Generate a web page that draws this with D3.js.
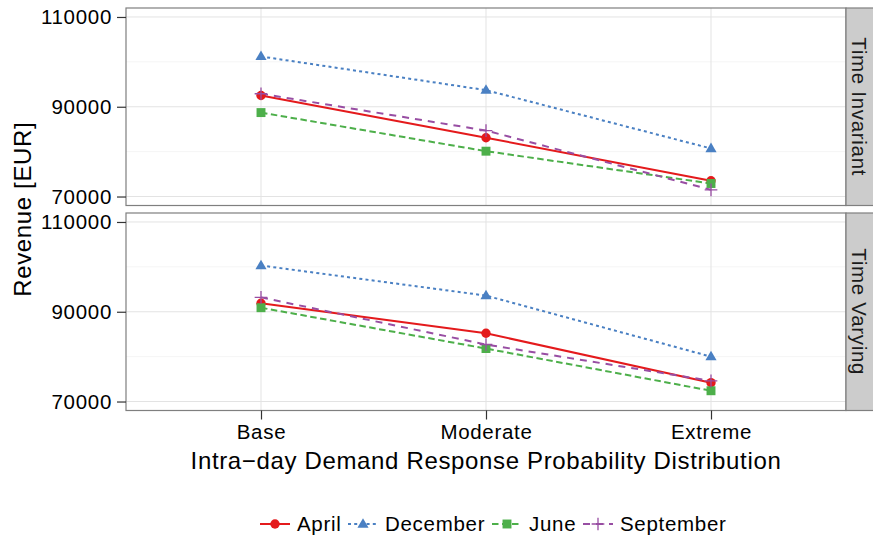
<!DOCTYPE html>
<html>
<head>
<meta charset="utf-8">
<script src="https://cdn.jsdelivr.net/npm/d3@7"></script>
<style>
  body { margin: 0; background: #fff; }
  text { font-family: "Liberation Sans", Arial, Helvetica, sans-serif; }
</style>
</head>
<body>
<div id="viz"></div>
<script>
const categories = ['Base', 'Moderate', 'Extreme'];
const months = ['April', 'December', 'June', 'September'];
const facets = ['Time Invariant', 'Time Varying'];
const yTicks = [70000, 90000, 110000];
const yMinor = [80000, 100000];

// revenue per month, one value per category (Base, Moderate, Extreme)
const invariantApril = [92500, 83100, 73500];
const invariantDecember = [101200, 93700, 80700];
const invariantJune = [88700, 80100, 72900];
const invariantSeptember = [92900, 84700, 71500];

const varyingApril = [91900, 85200, 74200];
const varyingDecember = [100300, 93600, 80000];
const varyingJune = [90900, 81800, 72400];
const varyingSeptember = [93200, 82700, 74600];

const facetValues = [
  [invariantApril, invariantDecember, invariantJune, invariantSeptember],
  [varyingApril, varyingDecember, varyingJune, varyingSeptember]
];

const colors = ['#E41A1C', '#4A80C3', '#4DAF4A', '#984EA3'];
const dashes = [null, '3,3.2', '6.5,3.5', '7,6'];

const width = 873;
const height = 538;
const left = 126;
const right = 846;
const panelTops = [8, 213];
const panelH = 197.5;

const svg = d3.select('#viz')
  .append('svg')
  .attr('width', width)
  .attr('height', height);

const x = d3.scalePoint().domain(categories).range([left, right]).padding(0.6);

const symbol = function (i, r) {
  if (i === 0) {
    return `M${-r},0A${r},${r} 0 1,0 ${r},0A${r},${r} 0 1,0 ${-r},0Z`;
  }
  if (i === 1) {
    const s = r * 1.25;
    return `M0,${-s}L${s * 0.95},${s * 0.62}L${-s * 0.95},${s * 0.62}Z`;
  }
  if (i === 2) {
    const s = r * 0.95;
    return `M${-s},${-s}H${s}V${s}H${-s}Z`;
  }
  const s = r * 1.35;
  return `M${-s},0H${s}M0,${-s}V${s}`;
};

const drawMarker = function (g, i, cx, cy) {
  const p = g.append('path')
    .attr('transform', `translate(${cx},${cy})`)
    .attr('d', symbol(i, 4.7));
  if (i === 3) {
    p.attr('fill', 'none').attr('stroke', colors[i]).attr('stroke-width', 1.3);
  } else {
    p.attr('fill', colors[i]);
  }
};

const smallText = sel => sel
  .attr('font-size', 20.5)
  .attr('letter-spacing', 0.7)
  .attr('fill', '#000')
  .attr('font-family', '"Liberation Sans", Arial, sans-serif');

facets.forEach((facet, f) => {
  const top = panelTops[f];
  const bottom = top + panelH;
  const y = d3.scaleLinear().domain([68000, 112000]).range([bottom, top]);

  const g = svg.append('g');

  g.append('rect')
    .attr('x', left).attr('y', top)
    .attr('width', right - left).attr('height', panelH)
    .attr('fill', '#fff');

  g.selectAll('.minor')
    .data(yMinor)
    .enter()
    .append('line')
    .attr('x1', left).attr('x2', right)
    .attr('y1', d => y(d)).attr('y2', d => y(d))
    .attr('stroke', '#F5F5F5').attr('stroke-width', 1);

  g.selectAll('.major')
    .data(yTicks)
    .enter()
    .append('line')
    .attr('x1', left).attr('x2', right)
    .attr('y1', d => y(d)).attr('y2', d => y(d))
    .attr('stroke', '#E3E3E3').attr('stroke-width', 1);

  g.selectAll('.vmajor')
    .data(categories)
    .enter()
    .append('line')
    .attr('x1', d => x(d)).attr('x2', d => x(d))
    .attr('y1', top).attr('y2', bottom)
    .attr('stroke', '#E3E3E3').attr('stroke-width', 1);

  const line = d3.line()
    .x((d, i) => x(categories[i]))
    .y(d => y(d));

  facetValues[f].forEach((vals, m) => {
    g.append('path')
      .attr('d', line(vals))
      .attr('fill', 'none')
      .attr('stroke', colors[m])
      .attr('stroke-width', 2)
      .attr('stroke-dasharray', dashes[m]);
  });

  facetValues[f].forEach((vals, m) => {
    vals.forEach((v, i) => drawMarker(g, m, x(categories[i]), y(v)));
  });

  g.append('rect')
    .attr('x', left).attr('y', top)
    .attr('width', right - left).attr('height', panelH)
    .attr('fill', 'none')
    .attr('stroke', '#7F7F7F').attr('stroke-width', 1.2);

  // y axis
  const axis = g.append('g')
    .attr('transform', `translate(${left},0)`)
    .call(d3.axisLeft(y).tickValues(yTicks).tickSize(9).tickPadding(5).tickFormat(d3.format('d')));
  axis.select('.domain').remove();
  axis.selectAll('line').attr('stroke', '#333').attr('stroke-width', 1.2);
  axis.selectAll('text').call(smallText);

  // strip
  g.append('rect')
    .attr('x', right).attr('y', top)
    .attr('width', width - right + 2).attr('height', panelH)
    .attr('fill', '#CCCCCC')
    .attr('stroke', '#7F7F7F').attr('stroke-width', 1.2);

  g.append('text')
    .attr('transform', `translate(${right + 6},${top + panelH / 2}) rotate(90)`)
    .attr('text-anchor', 'middle')
    .call(smallText)
    .attr('fill', '#1a1a1a')
    .text(facet);
});

// x axis under the last panel
const xAxisY = panelTops[1] + panelH;
const xAxis = svg.append('g')
  .attr('transform', `translate(0,${xAxisY})`)
  .call(d3.axisBottom(x).tickSize(9).tickPadding(5));
xAxis.select('.domain').remove();
xAxis.selectAll('line').attr('stroke', '#333').attr('stroke-width', 1.2);
xAxis.selectAll('text').call(smallText);

svg.append('text')
  .attr('x', (left + right) / 2)
  .attr('y', 469)
  .attr('text-anchor', 'middle')
  .attr('font-size', 24)
  .attr('letter-spacing', 0.65)
  .text('Intra\u2212day Demand Response Probability Distribution');

svg.append('text')
  .attr('transform', `translate(31,${(panelTops[0] + panelTops[1] + panelH) / 2}) rotate(-90)`)
  .attr('text-anchor', 'middle')
  .attr('font-size', 24)
  .attr('letter-spacing', 0.65)
  .text('Revenue [EUR]');

// legend
const legendX = [260, 348, 492, 583];
const legendY = 524;
const legend = svg.append('g');
months.forEach((m, i) => {
  const lg = legend.append('g');
  lg.append('line')
    .attr('x1', legendX[i]).attr('x2', legendX[i] + 30)
    .attr('y1', legendY).attr('y2', legendY)
    .attr('stroke', colors[i]).attr('stroke-width', 2)
    .attr('stroke-dasharray', dashes[i]);
  drawMarker(lg, i, legendX[i] + 15, legendY);
  lg.append('text')
    .attr('x', legendX[i] + 37)
    .attr('y', legendY + 7)
    .call(smallText)
    .text(m);
});
</script>
</body>
</html>
